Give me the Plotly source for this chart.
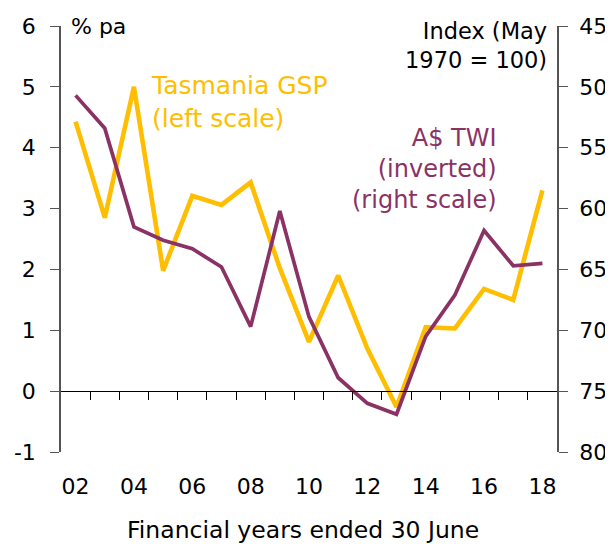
import plotly.graph_objects as go

years = list(range(2002, 2019))
gsp_growth = [4.43, 2.85, 5.00, 1.98, 3.21, 3.06, 3.43, 2.02, 0.81, 1.90, 0.70, -0.26, 1.05, 1.03, 1.68, 1.50, 3.30]
twi_index = [50.7, 53.4, 61.5, 62.6, 63.3, 64.8, 69.7, 60.2, 68.9, 73.9, 76.0, 76.9, 70.5, 67.1, 61.8, 64.7, 64.5]

x_tick_vals = list(range(2002, 2019, 2))
x_tick_text = ["02", "04", "06", "08", "10", "12", "14", "16", "18"]
year_boundaries = [y + 0.5 for y in range(2002, 2018)]
left_ticks = [-1, 0, 1, 2, 3, 4, 5, 6]
left_tick_text = ["-1", "0", "1", "2", "3", "4", "5", "6"]
right_ticks = [45, 50, 55, 60, 65, 70, 75, 80]

YELLOW = "#FFBE00"
PURPLE = "#8B3265"
FONT = "DejaVu Sans"
AXIS_GREY = "#555555"

fig = go.Figure()
# invisible helper trace so the zero-line axis (with year-boundary ticks) is rendered
fig.add_trace(go.Scatter(x=[years[0]], y=[None], mode="lines", xaxis="x2", yaxis="y",
                         showlegend=False, hoverinfo="skip"))
fig.add_trace(go.Scatter(x=years, y=gsp_growth, mode="lines",
                         line=dict(color=YELLOW, width=4.6), yaxis="y", xaxis="x",
                         showlegend=False, hoverinfo="skip"))
fig.add_trace(go.Scatter(x=years, y=twi_index, mode="lines",
                         line=dict(color=PURPLE, width=3.7), yaxis="y2", xaxis="x",
                         showlegend=False, hoverinfo="skip"))

xr = [2001.5, 2018.5]
fig.update_layout(
    width=605, height=536,
    margin=dict(l=53, r=56, t=18, b=92),
    paper_bgcolor="white", plot_bgcolor="white",
    font=dict(family=FONT, size=22, color="black"),
    xaxis=dict(range=xr, tickvals=x_tick_vals, ticktext=x_tick_text,
               ticks="", showline=False, showgrid=False, zeroline=False,
               ticklabelstandoff=19, tickfont=dict(size=22), automargin=False),
    xaxis2=dict(range=xr, overlaying="x", anchor="free", position=1/7,
                tickvals=year_boundaries, ticks="outside", ticklen=8, tickwidth=1,
                tickcolor="black", showline=True, linecolor="black", linewidth=1.2,
                showticklabels=False, showgrid=False, zeroline=False, automargin=False),
    yaxis=dict(range=[-1, 6], tickvals=left_ticks, ticktext=left_tick_text,
               ticks="outside", ticklen=9,
               tickcolor=AXIS_GREY, showline=True, linecolor=AXIS_GREY, linewidth=1.5,
               showgrid=False, zeroline=False, ticklabelstandoff=10, automargin=False),
    yaxis2=dict(range=[80, 45], tickvals=right_ticks, ticks="outside", ticklen=9,
                tickcolor=AXIS_GREY, showline=True, linecolor=AXIS_GREY, linewidth=1.5,
                overlaying="y", side="right", showgrid=False, zeroline=False,
                ticklabelstandoff=7, automargin=False),
)

anns = [
    dict(text="% pa", x=0.016, y=1.0, xanchor="left", yanchor="middle", font=dict(size=22)),
    dict(text="Index (May<br>1970 = 100)", x=0.984, y=0.955, xanchor="right", yanchor="middle",
         align="right", font=dict(size=22.5)),
    dict(text="Tasmania GSP<br>(left scale)", x=0.177, y=0.822, xanchor="left", yanchor="middle",
         align="left", font=dict(size=25, color=YELLOW)),
    dict(text="A$ TWI<br>(inverted)<br>(right scale)", x=0.883, y=0.665, xanchor="right",
         yanchor="middle", align="right", font=dict(size=24, color=PURPLE)),
    dict(text="Financial years ended 30 June", x=0.487, y=-0.183, xanchor="center",
         yanchor="middle", font=dict(size=23.5)),
]
for a in anns:
    fig.add_annotation(xref="paper", yref="paper", showarrow=False, **a)

fig.write_html("out.html")
